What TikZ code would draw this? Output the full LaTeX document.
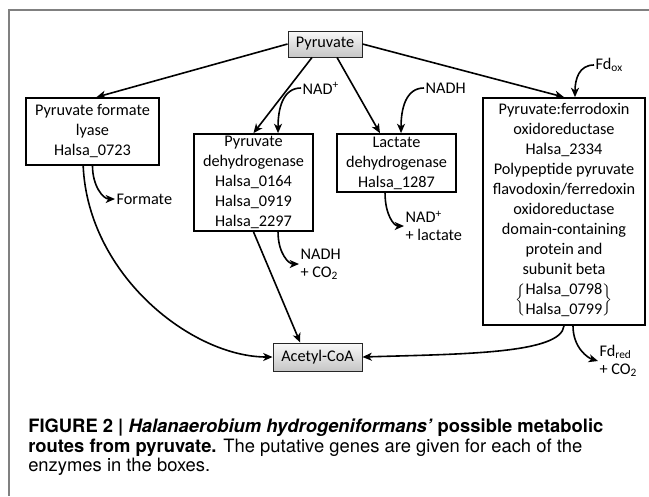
\documentclass[tikz,border=0pt]{standalone}
\usepackage{fontspec}
\setmainfont{Carlito}
\newfontfamily\capfont{TeX Gyre Heros}
\usetikzlibrary{arrows.meta}

\begin{document}
\begin{tikzpicture}[
    x=0.75pt,
    y=-0.75pt,
    >={Stealth[length=7pt,width=6pt,inset=2pt]},
    font=\fontsize{12.2}{15}\selectfont,
    enzyme/.style={
		rectangle,
		draw=black,
		line width=1.3pt,
		fill=white,
		align=center,
		inner sep=0pt
	},
	metab/.style={
		rectangle,
		draw=black!85,
		line width=0.7pt,
		top color=gray!5,
		bottom color=gray!45,
		inner sep=0pt
	},
	side/.style={
		anchor=west,
		align=left,
		inner sep=1pt,
		font=\fontsize{12.2}{13.5}\selectfont
	},
	flow/.style={
		->,
		line width=1.2pt
	}
  ]

\useasboundingbox (0,0) rectangle (649,496);

% // frame
\draw [draw=gray, line width=1.1pt] (649,10) -- (9,10) -- (9,496);

% // metabolites
\node [metab, minimum width=55.5pt, minimum height=19.5pt] (pyruvate) at (325,44) {Pyruvate};
\node [metab, minimum width=66.75pt, minimum height=21pt] (acetyl) at (317.5,357) {Acetyl-CoA};

% // enzymes
\node [enzyme, minimum width=99.75pt, minimum height=50.25pt] (pfl) at (92.5,131.5)
 {Pyruvate formate\\lyase\\Halsa\_0723};
\node [enzyme, minimum width=89.25pt, minimum height=72.75pt] (pdh) at (253.5,182.5)
 {Pyruvate\\dehydrogenase\\Halsa\_0164\\Halsa\_0919\\Halsa\_2297};
\node [enzyme, minimum width=89.25pt, minimum height=43.5pt] (ldh) at (396.5,163)
 {Lactate\\dehydrogenase\\Halsa\_1287};
\node [enzyme, minimum width=121.5pt, minimum height=170.25pt] (pfor) at (564,211.5)
 {%
 Pyruvate:ferrodoxin\\oxidoreductase\\Halsa\_2334\\Polypeptide pyruvate\\
 flavodoxin/ferredoxin\\oxidoreductase\\domain-containing\\protein and\\subunit beta\\[7.6pt]
 \smash{$\delimiterfactor=750 \delimitershortfall=10pt
   \left\{\begin{tabular}{@{}c@{}}Halsa\_0798\\Halsa\_0799\end{tabular}\right\}$}%
 \rule[-11.9pt]{0pt}{12pt}
 };

% // cofactors and side products
\node [side] (nadin) at (301,88) {NAD\textsuperscript{+}};
\node [side] (nadhin) at (424,88) {NADH};
\node [side] (fdox) at (594,65) {Fd\textsubscript{ox}};
\node [side] (formate) at (115,199) {Formate};
\node [side] (nadhout) at (299,264) {NADH\\+ CO\textsubscript{2}};
\node [side] (lactate) at (404,226) {NAD\textsuperscript{+}\\+ lactate};
\node [side] (fdred) at (598,361) {Fd\textsubscript{red}\\+ CO\textsubscript{2}};

% // from pyruvate
\draw [flow] (pyruvate.west) -- ([xshift=3pt]pfl.north);
\draw [flow] ([xshift=-9.75pt]pyruvate.south) -- (pdh.north);
\draw [flow] ([xshift=9pt]pyruvate.south) -- ([xshift=-12.4pt]ldh.north);
\draw [flow] (pyruvate.east) -- (pfor.north);

% // cofactors in
\draw [flow] (nadin.west) .. controls +(-18,0) and +(0,-25) .. ([xshift=18.4pt]pdh.north);
\draw [flow] (nadhin.west) .. controls +(-18,0) and +(0,-25) .. ([xshift=3.4pt]ldh.north);
\draw [flow] (fdox.west) .. controls +(-15,0) and +(0,-18) .. ([xshift=8.25pt]pfor.north);

% // products out
\draw [flow] (pfl.south) .. controls +(0,20) and +(-12,0) .. (formate.west);
\draw [flow] ([xshift=-7pt]pfl.south) .. controls +(5,110) and +(-80,0) .. (acetyl.west);
\draw [flow] (pdh.south) -- ([xshift=-13pt]acetyl.north);
\draw [flow] ([xshift=18.4pt]pdh.south) .. controls +(0,22) and +(-10,0) .. (nadhout.west);
\draw [flow] ([xshift=-8.6pt]ldh.south) .. controls +(0,22) and +(-10,0) .. (lactate.west);
\draw [flow] (pfor.south) .. controls +(-3,28) and +(100,-3) .. (acetyl.east);
\draw [flow] ([xshift=6.75pt]pfor.south) .. controls +(0,22) and +(-10,-3) .. (fdred.west);

% // caption
\node [anchor=north west, align=left, inner sep=0pt,
  font=\capfont\fontsize{13.8}{14.4}\selectfont] (caption) at (28,419)
 {\textbf{FIGURE 2 | \textit{Halanaerobium hydrogeniformans’} possible metabolic}\\
  \textbf{routes from pyruvate.} The putative genes are given for each of the\\
  enzymes in the boxes.};

\end{tikzpicture}
\end{document}
